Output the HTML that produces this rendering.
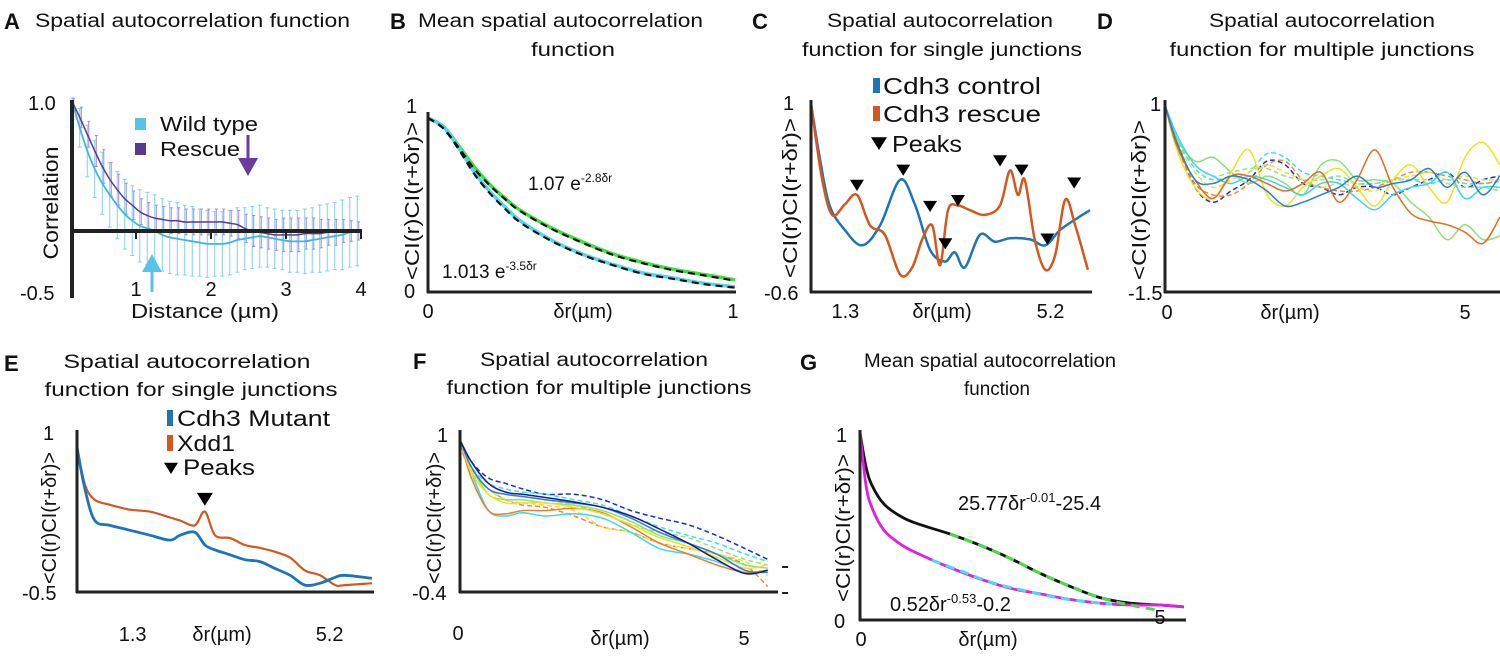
<!DOCTYPE html>
<html><head><meta charset="utf-8"><style>
html,body{margin:0;padding:0;background:#fff}
svg{display:block;font-family:"Liberation Sans Narrow","Liberation Sans",sans-serif}
.t{font-size:19px;fill:#111}
.lab{font-size:22px;font-weight:bold;fill:#111;font-family:"Liberation Sans",sans-serif}
.tk{font-size:18px;fill:#111}
</style></head><body>
<svg id="fig" width="1500" height="661" viewBox="0 0 1500 661">
<g>
<text class="lab" x="4" y="29">A</text>
<text class="t" x="35" y="27" textLength="315" lengthAdjust="spacingAndGlyphs">Spatial autocorrelation function</text>
<text class="lab" x="390" y="29">B</text>
<text class="t" x="418" y="27" textLength="285" lengthAdjust="spacingAndGlyphs">Mean spatial autocorrelation</text>
<text class="t" x="573" y="56" text-anchor="middle" textLength="84" lengthAdjust="spacingAndGlyphs">function</text>
<text class="lab" x="752" y="29">C</text>
<text class="t" x="940" y="27" text-anchor="middle" textLength="226" lengthAdjust="spacingAndGlyphs">Spatial autocorrelation</text>
<text class="t" x="942" y="56" text-anchor="middle" textLength="280" lengthAdjust="spacingAndGlyphs">function for single junctions</text>
<text class="lab" x="1097" y="29">D</text>
<text class="t" x="1322" y="27" text-anchor="middle" textLength="226" lengthAdjust="spacingAndGlyphs">Spatial autocorrelation</text>
<text class="t" x="1322" y="56" text-anchor="middle" textLength="305" lengthAdjust="spacingAndGlyphs">function for multiple junctions</text>
<text class="lab" x="4" y="371">E</text>
<text class="t" x="187" y="368" text-anchor="middle" textLength="247" lengthAdjust="spacingAndGlyphs">Spatial autocorrelation</text>
<text class="t" x="191" y="396" text-anchor="middle" textLength="293" lengthAdjust="spacingAndGlyphs">function for single junctions</text>
<text class="lab" x="413" y="369">F</text>
<text class="t" x="594" y="366" text-anchor="middle" textLength="228" lengthAdjust="spacingAndGlyphs">Spatial autocorrelation</text>
<text class="t" x="599" y="394" text-anchor="middle" textLength="305" lengthAdjust="spacingAndGlyphs">function for multiple junctions</text>
<text class="lab" x="800" y="370">G</text>
<text class="t" x="990" y="367" text-anchor="middle" textLength="252" lengthAdjust="spacingAndGlyphs">Mean spatial autocorrelation</text>
<text class="t" x="997" y="395" text-anchor="middle" textLength="66" lengthAdjust="spacingAndGlyphs">function</text>
</g>
<g id="plots"></g>
</svg>
<script>
// ---------- Panel A data ----------
const aX = [0.15,0.25,0.35,0.45,0.55,0.65,0.75,0.85,0.95,1.05,1.15,1.25,1.35,1.45,1.55,1.65,1.75,1.85,1.95,2.05,2.15,2.25,2.35,2.45,2.55,2.65,2.75,2.85,2.95,3.05,3.15,3.25,3.35,3.45,3.55,3.65,3.75,3.85,3.95];
const aWild = [1.0,0.8,0.62,0.48,0.37,0.28,0.2,0.13,0.08,0.04,0.02,0.0,-0.03,-0.05,-0.06,-0.07,-0.08,-0.09,-0.1,-0.1,-0.1,-0.09,-0.07,-0.06,-0.05,-0.04,-0.05,-0.06,-0.07,-0.08,-0.08,-0.08,-0.07,-0.06,-0.05,-0.04,-0.03,-0.01,0.0];
const aWildErr = [0.03,0.15,0.2,0.22,0.24,0.25,0.26,0.27,0.27,0.28,0.28,0.28,0.28,0.28,0.28,0.27,0.27,0.26,0.26,0.25,0.25,0.25,0.25,0.24,0.24,0.24,0.23,0.23,0.23,0.24,0.24,0.25,0.25,0.26,0.26,0.26,0.27,0.27,0.27];
const aRescue = [1.0,0.88,0.75,0.62,0.5,0.4,0.32,0.25,0.2,0.15,0.12,0.1,0.09,0.08,0.08,0.07,0.07,0.07,0.07,0.07,0.07,0.06,0.05,0.02,0.0,-0.01,-0.02,-0.03,-0.03,-0.03,-0.03,-0.02,-0.02,-0.02,-0.01,-0.01,0.0,0.0,0.0];
const aRescueErr = [0.03,0.08,0.1,0.12,0.13,0.13,0.12,0.12,0.11,0.1,0.1,0.1,0.1,0.1,0.1,0.1,0.1,0.1,0.1,0.1,0.1,0.1,0.11,0.11,0.12,0.12,0.12,0.12,0.13,0.13,0.13,0.12,0.12,0.11,0.1,0.1,0.09,0.08,0.07];
const aXTicks = ["1","2","3","4"];
// ---------- Panel B data ----------
const bX = [0,0.05,0.1,0.15,0.2,0.25,0.3,0.4,0.5,0.6,0.7,0.8,0.9,1.0];
const bGreen = [1,0.95,0.84,0.72,0.62,0.54,0.47,0.37,0.29,0.22,0.17,0.13,0.1,0.07];
const bCyan = [1,0.95,0.83,0.69,0.58,0.49,0.41,0.3,0.22,0.16,0.11,0.08,0.05,0.03];
const bFitGreen = [1,0.94,0.83,0.71,0.615,0.535,0.465,0.365,0.285,0.215,0.165,0.125,0.095,0.065];
const bFitCyan = [1,0.94,0.82,0.68,0.57,0.48,0.4,0.295,0.215,0.155,0.105,0.075,0.045,0.025];
// ---------- Panel C data ----------
const cBlueX = [0.65,0.82,1.0,1.29,1.62,1.96,2.34,2.62,2.91,3.19,3.38,3.57,3.86,4.14,4.43,4.81,5.10,5.38,5.67,5.95];
const cBlue = [1,0.53,0.14,-0.07,-0.2,-0.03,0.36,0.15,-0.24,-0.34,-0.26,-0.39,-0.11,-0.17,-0.14,-0.15,-0.2,-0.07,0.02,0.1];
const cOrangeX = [0.65,0.86,1.05,1.29,1.52,1.77,2.05,2.34,2.57,2.76,2.95,3.1,3.25,3.44,3.67,3.95,4.24,4.43,4.58,4.71,4.9,5.1,5.29,5.48,5.67,5.91];
const cOrange = [1,0.36,0.06,0.15,0.23,-0.03,-0.11,-0.45,-0.39,-0.15,-0.03,-0.37,0.1,0.14,0.1,0.06,0.14,0.44,0.23,0.36,-0.15,-0.41,-0.28,0.19,-0.03,-0.41];
const cPeakX = [1.52,2.4,2.91,3.44,3.2,4.24,4.65,5.14,5.65];
const cPeakY = [0.23,0.36,0.05,0.1,-0.27,0.44,0.36,-0.23,0.25];
const cXTicks = [1.3,5.2];
// ---------- Panel D data ----------
const dX = [0,0.2,0.5,0.8,1.1,1.4,1.7,2.0,2.3,2.6,2.9,3.2,3.5,3.8,4.1,4.4,4.7,5.0,5.3,5.58];
const dBlue = [1,0.5,0.0,-0.05,0.05,0.0,-0.15,-0.35,-0.3,-0.2,-0.1,0.05,-0.1,-0.05,0.0,0.15,-0.1,0.1,-0.2,0.05];
const dCyan = [1,0.6,0.2,0.05,-0.05,0.05,0.0,-0.1,-0.2,-0.05,-0.05,-0.25,-0.4,-0.2,-0.1,-0.05,0.1,-0.25,-0.1,-0.1];
const dYellow = [1,0.4,-0.1,-0.25,0.1,0.4,-0.2,-0.35,-0.1,0.05,0.15,-0.1,-0.35,0.0,0.2,-0.1,-0.3,0.3,0.5,0.2];
const dGreen = [1,0.55,0.25,0.3,0.1,-0.05,0.05,-0.05,-0.2,0.2,0.25,0.0,0.0,-0.05,-0.3,-0.5,-0.8,-0.6,-0.8,-0.75];
const dOrange = [1,0.45,0.0,-0.25,0.05,0.05,-0.05,-0.15,-0.05,0.1,-0.3,0.0,0.4,-0.1,-0.45,-0.55,-0.6,-0.7,-0.85,-0.5];
const dDashBlue = [1,0.5,-0.1,-0.3,-0.15,0.0,0.25,0.2,-0.05,-0.1,-0.2,-0.1,-0.1,-0.2,-0.1,0.0,0.1,-0.1,0.0,0.05];
const dDashCyan = [1,0.55,0.15,0.0,0.05,0.1,0.35,0.3,0.1,0.05,0.0,-0.05,-0.05,0.0,0.0,-0.05,0.0,-0.05,-0.05,-0.02];
const dDashOrange = [1,0.45,-0.05,-0.2,-0.2,-0.05,0.2,0.25,0.0,-0.1,-0.15,-0.15,-0.1,0.0,0.1,0.1,0.05,0.0,-0.05,0.0];
const dDashYellow = [1,0.5,0.1,-0.1,0.0,0.1,0.2,0.1,0.0,-0.1,-0.05,-0.1,-0.15,0.0,0.05,0.1,0.0,0.05,0.0,0.0];
const dDashGreen = [1,0.5,0.2,0.05,0.1,0.15,0.15,0.05,0.0,0.0,0.05,-0.05,-0.05,0.0,0.0,0.0,-0.05,-0.1,-0.1,-0.15];
// ---------- Panel E data ----------
const eX = [0.2,0.36,0.55,0.85,1.25,1.64,2.04,2.24,2.53,2.73,2.93,3.23,3.52,3.82,4.12,4.42,4.71,5.01,5.31,5.5,6.04];
const eBlue = [0.97,0.54,0.23,0.18,0.13,0.08,0.03,0.08,0.11,-0.02,-0.07,-0.12,-0.17,-0.19,-0.26,-0.33,-0.43,-0.41,-0.35,-0.33,-0.36];
const eOrange = [0.97,0.59,0.44,0.39,0.34,0.32,0.26,0.23,0.18,0.32,0.08,0.05,-0.02,-0.05,-0.09,-0.15,-0.28,-0.33,-0.43,-0.43,-0.41];
const ePeakX = [2.73];
const ePeakY = [0.36];
// ---------- Panel F data ----------
const fX = [0,0.2,0.5,0.8,1.1,1.5,2,2.5,3,3.5,4,4.5,5,5.4];
const fCyan = [1,0.7,0.35,0.3,0.33,0.3,0.32,0.28,0.15,0.0,-0.05,-0.12,-0.22,-0.2];
const fOrange = [1,0.65,0.35,0.32,0.35,0.35,0.37,0.33,0.2,0.05,-0.05,-0.15,-0.22,-0.2];
const fGreen = [1,0.75,0.5,0.45,0.45,0.42,0.4,0.35,0.25,0.12,0.05,-0.05,-0.15,-0.18];
const fYellow = [1,0.7,0.5,0.42,0.42,0.42,0.38,0.32,0.22,0.1,0.02,-0.08,-0.18,-0.15];
const fBlue = [1,0.75,0.55,0.5,0.48,0.45,0.42,0.38,0.28,0.15,0.05,-0.05,-0.2,-0.22];
const fNavy = [1,0.8,0.6,0.52,0.5,0.47,0.43,0.38,0.3,0.18,0.05,-0.1,-0.23,-0.2];
const fDashBlue = [1,0.8,0.65,0.6,0.55,0.5,0.5,0.45,0.35,0.28,0.22,0.12,0.0,-0.1];
const fDashCyan = [1,0.75,0.6,0.55,0.52,0.5,0.45,0.4,0.3,0.2,0.12,0.05,-0.05,-0.12];
const fDashOrange = [0.95,0.7,0.55,0.45,0.4,0.38,0.3,0.2,0.15,0.05,0.0,-0.05,-0.15,-0.35];
const fDashYellow = [1,0.72,0.55,0.45,0.42,0.4,0.35,0.2,0.15,0.05,0.0,-0.05,-0.12,-0.25];
const fDashGreen = [1,0.75,0.55,0.5,0.48,0.45,0.4,0.32,0.22,0.15,0.1,0.0,-0.1,-0.15];
// ---------- Panel G data ----------
const gX = [0,0.1,0.2,0.4,0.7,1,1.5,2,2.5,3,3.5,4,4.5,5,5.4];
const gBlack = [1,0.82,0.72,0.62,0.55,0.51,0.46,0.4,0.33,0.25,0.18,0.12,0.09,0.08,0.07];
const gMagenta = [1,0.72,0.6,0.48,0.4,0.35,0.28,0.22,0.17,0.14,0.11,0.09,0.08,0.08,0.07];
const gFitX = [1.5,2,2.5,3,3.5,4,4.5,5];
const gFitGreen = [0.46,0.4,0.33,0.25,0.18,0.12,0.08,0.05];
const gFitCX = [1.2,1.7,2.2,2.7,3.2,3.7,4.2];
const gFitCyan = [0.32,0.26,0.2,0.16,0.125,0.1,0.085];

const NS = "http://www.w3.org/2000/svg";
const root = document.getElementById('plots');
function mk(tag, attrs, parent) {
  const e = document.createElementNS(NS, tag);
  for (const k in attrs) e.setAttribute(k, attrs[k]);
  (parent || root).appendChild(e);
  return e;
}
function scale(d0, d1, r0, r1) { return v => r0 + (v - d0) * (r1 - r0) / (d1 - d0); }
function smoothPath(pts) {
  let d = "M" + pts[0][0].toFixed(1) + "," + pts[0][1].toFixed(1);
  for (let i = 0; i < pts.length - 1; i++) {
    const p0 = pts[i - 1] || pts[i], p1 = pts[i], p2 = pts[i + 1], p3 = pts[i + 2] || p2;
    const c1 = [p1[0] + (p2[0] - p0[0]) / 6, p1[1] + (p2[1] - p0[1]) / 6];
    const c2 = [p2[0] - (p3[0] - p1[0]) / 6, p2[1] - (p3[1] - p1[1]) / 6];
    d += "C" + c1.map(v => v.toFixed(1)).join(",") + " " + c2.map(v => v.toFixed(1)).join(",") + " " + p2[0].toFixed(1) + "," + p2[1].toFixed(1);
  }
  return d;
}
function series(name, X, Y, xs, ys, color, w, dash) {
  const pts = xs.map((v, i) => [X(v), Y(ys[i])]);
  const p = mk('path', {d: smoothPath(pts), fill: 'none', stroke: color, 'stroke-width': w, 'stroke-dasharray': dash || 'none', 'stroke-linejoin': 'round'});
  
  
  return p;
}
function text(name, x, y, str, opts) {
  const t = mk('text', Object.assign({x: x, y: y, class: 'tk'}, opts || {}));
  t.textContent = str;
  
  
  return t;
}
function line(name, x1, y1, x2, y2, w, color) {
  const l = mk('line', {x1: x1, y1: y1, x2: x2, y2: y2, stroke: color || '#222', 'stroke-width': w});
  
  
  return l;
}
function ylabel(name, cx, cy, len) {
  const t = mk('text', {x: cx, y: cy, class: 'tk', 'text-anchor': 'middle', transform: 'rotate(-90 ' + cx + ' ' + cy + ')', textLength: len, lengthAdjust: 'spacingAndGlyphs', style: 'font-size:20px'});
  t.textContent = '<CI(r)CI(r+δr)>';
  
  
}
function tri(name, cx, cy, s) {
  const p = mk('polygon', {points: (cx - s) + ',' + (cy - s * 1.6) + ' ' + (cx + s) + ',' + (cy - s * 1.6) + ' ' + cx + ',' + cy, fill: '#000'});
  
  
}
function rect(name, x, y, w, h, color) {
  const r = mk('rect', {x: x, y: y, width: w, height: h, fill: color});
  
  
}

// ===== Panel A =====
{
  const X = scale(0, 4, 61, 361), Y = scale(0, 1, 231, 102);
  aX.forEach((v, i) => {
    const x = X(v);
    line('error-bar-wild', x, Y(aWild[i] + aWildErr[i]), x, Y(aWild[i] - aWildErr[i]), 1, '#7fd0ee');
    line('error-cap-wild', x - 2, Y(aWild[i] + aWildErr[i]), x + 2, Y(aWild[i] + aWildErr[i]), 1, '#7fd0ee');
    line('error-cap-wild', x - 2, Y(aWild[i] - aWildErr[i]), x + 2, Y(aWild[i] - aWildErr[i]), 1, '#7fd0ee');
    line('error-bar-rescue', x + 1.5, Y(aRescue[i] + aRescueErr[i]), x + 1.5, Y(aRescue[i] - aRescueErr[i]), 1, '#a889c8');
    line('error-cap-rescue', x, Y(aRescue[i] + aRescueErr[i]), x + 3, Y(aRescue[i] + aRescueErr[i]), 1, '#a889c8');
    line('error-cap-rescue', x, Y(aRescue[i] - aRescueErr[i]), x + 3, Y(aRescue[i] - aRescueErr[i]), 1, '#a889c8');
  });
  series('wild-type-line', X, Y, aX, aWild, '#3fb6e2', 1.8);
  series('rescue-line', X, Y, aX, aRescue, '#5b3a8e', 1.5);
  line('a-y-axis', 72, 100, 72, 298, 4);
  line('a-x-axis', 72, Y(0), 362, Y(0), 4);
  aXTicks.forEach((t, i) => {
    line('a-x-tick', X(+t), Y(0), X(+t), Y(0) + 8, 2);
    text('a-x-tick-label', X(+t), 296, t, {'text-anchor': 'middle', style: 'font-size:20px'});
  });
  text('a-y-tick-top', 28, 110, '1.0', {style: 'font-size:20px'});
  text('a-y-tick-bottom', 20, 300, '-0.5', {style: 'font-size:20px'});
  text('a-y-title', 58, 203, 'Correlation', {'text-anchor': 'middle', transform: 'rotate(-90 58 203)', style: 'font-size:21px', textLength: 113, lengthAdjust: 'spacingAndGlyphs'});
  text('a-x-title', 205, 318, 'Distance (µm)', {'text-anchor': 'middle', style: 'font-size:20px', textLength: 148, lengthAdjust: 'spacingAndGlyphs'});
  rect('legend-swatch-wild', 135, 118, 11, 12, '#55c3ea');
  text('legend-label-wild', 160, 131, 'Wild type', {style: 'font-size:20px', textLength: 98, lengthAdjust: 'spacingAndGlyphs'});
  rect('legend-swatch-rescue', 135, 143, 11, 12, '#5b3a8e');
  text('legend-label-rescue', 160, 156, 'Rescue', {style: 'font-size:20px', textLength: 80, lengthAdjust: 'spacingAndGlyphs'});
  line('rescue-arrow-shaft', 248, 135, 248, 160, 3, '#6a3d9a');
  mk('polygon', {points: '238,158 258,158 248,176', fill: '#6a3d9a',  });
  line('wild-arrow-shaft', 152, 270, 152, 292, 3, '#55c3ea');
  mk('polygon', {points: '142,272 162,272 152,254', fill: '#55c3ea',  });
}
// ===== Panel B =====
{
  const X = scale(0, 1, 428, 735), Y = scale(0, 1, 292, 118);
  series('b-green-line', X, Y, bX, bGreen, '#3ee03e', 3.5);
  series('b-cyan-line', X, Y, bX, bCyan, '#4fd8ef', 3.5);
  series('b-fit-green', X, Y, bX, bFitGreen, '#111', 2.2, '7,5');
  series('b-fit-cyan', X, Y, bX, bFitCyan, '#111', 2.2, '7,5');
  line('b-y-axis', 428, 112, 428, 293, 3);
  line('b-x-axis', 427, 292, 736, 292, 3);
  text('b-y-tick-top', 406, 113, '1', {style: 'font-size:20px'});
  text('b-y-tick-bottom', 404, 298, '0', {style: 'font-size:20px'});
  text('b-x-tick-0', 428, 318, '0', {'text-anchor': 'middle', style: 'font-size:20px'});
  text('b-x-tick-1', 733, 318, '1', {'text-anchor': 'middle', style: 'font-size:20px'});
  text('b-x-title', 583, 318, 'δr(µm)', {'text-anchor': 'middle', style: 'font-size:20px'});
  ylabel('b-y-title', 419, 201, 158);
  const f1 = text('b-fit-label-green', 528, 190, '', {style: 'font-size:19px'});
  f1.innerHTML = '1.07 e<tspan dy="-8" style="font-size:12px">-2.8δr</tspan>';
  const f2 = text('b-fit-label-cyan', 442, 278, '', {style: 'font-size:19px'});
  f2.innerHTML = '1.013 e<tspan dy="-8" style="font-size:12px">-3.5δr</tspan>';
}
// ===== Panel C =====
{
  const X = scale(0, 1, 777, 829.6), Y = scale(1, -0.6, 105, 292);
  series('c-control-line', X, Y, cBlueX, cBlue, '#1f74b8', 2.5);
  series('c-rescue-line', X, Y, cOrangeX, cOrange, '#d4581e', 2.5);
  cPeakX.forEach((v, i) => tri('c-peak-marker', X(v), Y(cPeakY[i]) - 4, 7));
  line('c-y-axis', 811, 100, 811, 293, 3);
  line('c-x-axis', 810, 292, 1092, 292, 3);
  text('c-y-tick-top', 783, 110, '1', {style: 'font-size:20px'});
  text('c-y-tick-bottom', 764, 300, '-0.6', {style: 'font-size:20px'});
  cXTicks.forEach(v => text('c-x-tick-label', X(v), 318, String(v), {'text-anchor': 'middle', style: 'font-size:20px'}));
  text('c-x-title', 942, 318, 'δr(µm)', {'text-anchor': 'middle', style: 'font-size:20px'});
  ylabel('c-y-title', 797, 198, 160);
  rect('c-legend-swatch-control', 873, 78, 7, 15, '#1f74b8');
  text('c-legend-control', 883, 94, 'Cdh3 control', {style: 'font-size:23px', textLength: 158, lengthAdjust: 'spacingAndGlyphs'});
  rect('c-legend-swatch-rescue', 873, 106, 7, 15, '#d4581e');
  text('c-legend-rescue', 883, 122, 'Cdh3 rescue', {style: 'font-size:23px', textLength: 158, lengthAdjust: 'spacingAndGlyphs'});
  tri('c-legend-peak-marker', 879, 150, 8);
  text('c-legend-peaks', 892, 152, 'Peaks', {style: 'font-size:23px', textLength: 70, lengthAdjust: 'spacingAndGlyphs'});
}
// ===== Panel D =====
{
  const X = scale(0, 5, 1165, 1465), Y = scale(1, -1.5, 105, 292);
  const defs = [['d-dash-blue', dDashBlue, '#1b2fd0', '5,3'], ['d-dash-cyan', dDashCyan, '#3fe0f5', '5,3'], ['d-dash-orange', dDashOrange, '#f08a30', '5,3'],
    ['d-dash-yellow', dDashYellow, '#e8e040', '5,3'], ['d-dash-green', dDashGreen, '#9be27a', '5,3'],
    ['d-green', dGreen, '#8be27a'], ['d-yellow', dYellow, '#f2e21a'], ['d-cyan', dCyan, '#3ad8f0'], ['d-orange', dOrange, '#e86a20'], ['d-blue', dBlue, '#2a7fd6']];
  defs.forEach(d => series(d[0] + '-line', X, Y, dX, d[1], d[2], 1.5, d[3]));
  line('d-y-axis', 1165, 100, 1165, 293, 3);
  line('d-x-axis', 1164, 292, 1500, 292, 3);
  text('d-y-tick-top', 1150, 111, '1', {style: 'font-size:20px'});
  text('d-y-tick-bottom', 1128, 300, '-1.5', {style: 'font-size:20px'});
  text('d-x-tick-0', 1167, 319, '0', {'text-anchor': 'middle', style: 'font-size:20px'});
  text('d-x-tick-5', 1465, 319, '5', {'text-anchor': 'middle', style: 'font-size:20px'});
  text('d-x-title', 1290, 319, 'δr(µm)', {'text-anchor': 'middle', style: 'font-size:20px'});
  ylabel('d-y-title', 1146, 200, 160);
}
// ===== Panel E =====
{
  const X = scale(0, 1, 67, 117.5), Y = scale(1, -0.5, 445, 592);
  series('e-xdd1-line', X, Y, eX, eOrange, '#d4581e', 2.2);
  series('e-mutant-line', X, Y, eX, eBlue, '#1f74b8', 2.8);
  ePeakX.forEach((v, i) => tri('e-peak-marker', X(v), Y(ePeakY[i]) - 2, 8));
  line('e-y-axis', 77, 430, 77, 593, 3);
  line('e-x-axis', 76, 592, 374, 592, 3);
  text('e-y-tick-top', 43, 440, '1', {style: 'font-size:20px'});
  text('e-y-tick-bottom', 22, 600, '-0.5', {style: 'font-size:20px'});
  text('e-x-tick-1', X(1.3), 641, '1.3', {'text-anchor': 'middle', style: 'font-size:20px'});
  text('e-x-tick-2', X(5.2), 641, '5.2', {'text-anchor': 'middle', style: 'font-size:20px'});
  text('e-x-title', 222, 641, 'δr(µm)', {'text-anchor': 'middle', style: 'font-size:20px'});
  ylabel('e-y-title', 56, 518, 132);
  rect('e-legend-swatch-mutant', 167, 410, 6, 16, '#1f74b8');
  text('e-legend-mutant', 177, 426, 'Cdh3 Mutant', {style: 'font-size:22px', textLength: 153, lengthAdjust: 'spacingAndGlyphs'});
  rect('e-legend-swatch-xdd1', 167, 435, 6, 16, '#d4581e');
  text('e-legend-xdd1', 177, 451, 'Xdd1', {style: 'font-size:22px', textLength: 58, lengthAdjust: 'spacingAndGlyphs'});
  tri('e-legend-peak-marker', 171, 474, 7);
  text('e-legend-peaks', 183, 475, 'Peaks', {style: 'font-size:22px', textLength: 72, lengthAdjust: 'spacingAndGlyphs'});
}
// ===== Panel F =====
{
  const X = scale(0, 5, 460, 745), Y = scale(1, -0.4, 440, 592);
  const defs = [['f-dash-blue', fDashBlue, '#1b2fd0', '5,3'], ['f-dash-cyan', fDashCyan, '#3fe0f5', '5,3'], ['f-dash-orange', fDashOrange, '#f08a30', '5,3'],
    ['f-dash-yellow', fDashYellow, '#e8e040', '5,3'], ['f-dash-green', fDashGreen, '#9be27a', '5,3'],
    ['f-cyan', fCyan, '#3ad8f0'], ['f-orange', fOrange, '#e8802a'], ['f-green', fGreen, '#8be27a'], ['f-yellow', fYellow, '#f2e21a'], ['f-blue', fBlue, '#2a7fd6'], ['f-navy', fNavy, '#1a1a9a']];
  defs.forEach(d => series(d[0] + '-line', X, Y, fX, d[1], d[2], 1.5, d[3]));
  line('f-y-axis', 460, 430, 460, 593, 3);
  line('f-x-axis', 459, 592, 778, 592, 3);
  line('f-right-mark-1', 782, 567, 788, 567, 2);
  line('f-right-mark-2', 782, 593, 788, 593, 2);
  text('f-y-tick-top', 437, 442, '1', {style: 'font-size:20px'});
  text('f-y-tick-bottom', 412, 600, '-0.4', {style: 'font-size:20px'});
  text('f-x-tick-0', 458, 640, '0', {'text-anchor': 'middle', style: 'font-size:20px'});
  text('f-x-tick-5', 744, 645, '5', {'text-anchor': 'middle', style: 'font-size:20px'});
  text('f-x-title', 620, 645, 'δr(µm)', {'text-anchor': 'middle', style: 'font-size:20px'});
  ylabel('f-y-title', 441, 518, 132);
}
// ===== Panel G =====
{
  const X = scale(0, 5, 860, 1160), Y = scale(0, 1, 620, 433);
  series('g-black-line', X, Y, gX, gBlack, '#111', 2.8);
  series('g-magenta-line', X, Y, gX, gMagenta, '#e020e0', 2.8);
  series('g-fit-green', X, Y, gFitX, gFitGreen, '#4ed84e', 3, '9,6');
  series('g-fit-cyan', X, Y, gFitCX, gFitCyan, '#4fd8ef', 3, '9,6');
  line('g-y-axis', 860, 430, 860, 621, 3);
  line('g-x-axis', 859, 620, 1186, 620, 3);
  text('g-y-tick-top', 836, 442, '1', {style: 'font-size:20px'});
  text('g-y-tick-bottom', 834, 628, '0', {style: 'font-size:20px'});
  text('g-x-tick-0', 861, 646, '0', {'text-anchor': 'middle', style: 'font-size:20px'});
  text('g-x-tick-5', 1160, 624, '5', {'text-anchor': 'middle', style: 'font-size:20px'});
  text('g-x-title', 988, 646, 'δr(µm)', {'text-anchor': 'middle', style: 'font-size:20px'});
  ylabel('g-y-title', 850, 528, 148);
  const f1 = text('g-fit-label-black', 958, 510, '', {style: 'font-size:20px'});
  f1.innerHTML = '25.77δr<tspan dy="-8" style="font-size:13px">-0.01</tspan><tspan dy="8">-25.4</tspan>';
  const f2 = text('g-fit-label-magenta', 890, 611, '', {style: 'font-size:20px'});
  f2.innerHTML = '0.52δr<tspan dy="-8" style="font-size:13px">-0.53</tspan><tspan dy="8">-0.2</tspan>';
}
</script>
</body></html>
